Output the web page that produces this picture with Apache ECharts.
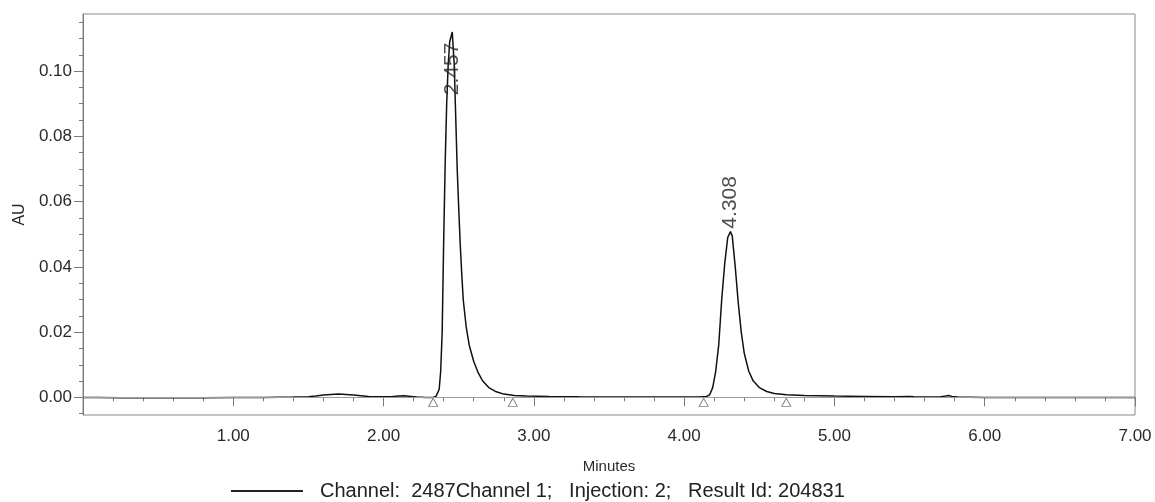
<!DOCTYPE html>
<html>
<head>
<meta charset="utf-8">
<script src="https://cdn.jsdelivr.net/npm/echarts@6/dist/echarts.min.js"></script>
<style>
html,body{margin:0;padding:0;background:#fff;}
#chart{width:1155px;height:502px;}
</style>
</head>
<body>
<div id="chart"></div>
<script>
// Trace: [minutes, AU]
const traceX = [0.00,0.10,0.25,0.40,0.60,0.80,1.00,1.20,1.40,1.50,1.55,1.60,1.65,1.70,1.75,1.80,1.85,1.90,1.95,2.00,2.05,2.10,2.14,2.18,2.22,2.28,2.33,2.35,2.37,2.38,2.39,2.40,2.41,2.42,2.43,2.44,2.457,2.47,2.48,2.49,2.50,2.51,2.52,2.53,2.55,2.57,2.60,2.63,2.66,2.70,2.75,2.80,2.87,2.95,3.10,3.30,3.60,3.90,4.10,4.15,4.17,4.19,4.21,4.23,4.25,4.27,4.29,4.308,4.32,4.34,4.36,4.38,4.40,4.43,4.46,4.50,4.55,4.60,4.68,4.80,5.00,5.20,5.40,5.50,5.53,5.60,5.70,5.74,5.76,5.78,5.82,6.00,6.50,7.00];
const traceY = [0.0000,0.0000,-0.0001,-0.0001,-0.0001,-0.0001,0.0000,0.0000,0.0001,0.0002,0.0004,0.0007,0.0009,0.0010,0.0009,0.0007,0.0005,0.0003,0.0002,0.0002,0.0002,0.0004,0.0005,0.0003,0.0001,0.0000,0.0000,0.0004,0.0025,0.0080,0.0200,0.0480,0.0720,0.0900,0.1020,0.1090,0.1120,0.1020,0.0860,0.0700,0.0580,0.0470,0.0380,0.0300,0.0215,0.0160,0.0110,0.0075,0.0050,0.0030,0.0017,0.0010,0.0006,0.0004,0.0003,0.0002,0.0001,0.0001,0.0001,0.0003,0.0008,0.0030,0.0080,0.0160,0.0300,0.0410,0.0490,0.0508,0.0495,0.0400,0.0290,0.0200,0.0135,0.0080,0.0050,0.0030,0.0018,0.0012,0.0008,0.0006,0.0004,0.0003,0.0002,0.0003,0.0002,0.0001,0.0001,0.0004,0.0006,0.0003,0.0001,0.0000,0.0000,0.0000];

// Peaks
const peakRT = [2.457, 4.308];
const peakHeight = [0.1120, 0.0508];

// Integration start/end markers
const markerRT = [2.33, 2.86, 4.13, 4.68];

// Axis ticks
const xMin = 0, xMax = 7, xStep = 1;
const yMin = -0.0054, yMax = 0.1175;
const yMajorTicks = [0.00, 0.02, 0.04, 0.06, 0.08, 0.10];
const yMinorTicks = [-0.005,0.000,0.005,0.010,0.015,0.020,0.025,0.030,0.035,0.040,0.045,0.050,0.055,0.060,0.065,0.070,0.075,0.080,0.085,0.090,0.095,0.100,0.105,0.110,0.115];

const legendName = 'Channel:  2487Channel 1;   Injection: 2;   Result Id: 204831';

const FONT = 'Liberation Sans, Arial, sans-serif';
const AX = '#7a7a7a';
const TXT = '#2a2a2a';

const trace = traceX.map((x, i) => [x, traceY[i]]);
const labelCap = yMax - 0.0258;
const peakPts = peakRT.map((rt, i) => ({ value: [rt, Math.min(peakHeight[i], labelCap)], name: rt.toFixed(3) }));
const markers = markerRT.map(rt => [rt, 0]);

const chart = echarts.init(document.getElementById('chart'), null, { renderer: 'canvas' });
chart.setOption({
  animation: false,
  backgroundColor: '#fff',
  textStyle: { fontFamily: FONT },
  grid: { left: 83, right: 20, top: 14, bottom: 87, show: true, borderColor: '#8a8a8a', borderWidth: 1 },
  legend: {
    show: true,
    left: 226, top: 476,
    itemWidth: 72, itemHeight: 2,
    icon: 'rect',
    data: [{ name: legendName, itemStyle: { color: '#222' } }],
    textStyle: { fontFamily: FONT, fontSize: 20, color: '#222', padding: [0, 0, 0, 12] }
  },
  xAxis: {
    type: 'value', min: xMin, max: xMax, interval: xStep,
    name: 'Minutes', nameLocation: 'middle', nameGap: 44,
    nameTextStyle: { fontFamily: FONT, fontSize: 15, color: TXT },
    axisLine: { show: true, lineStyle: { color: AX, width: 1 } },
    axisTick: { show: true, length: 9, lineStyle: { color: AX } },
    minorTick: { show: true, splitNumber: 5, length: 4, lineStyle: { color: AX } },
    axisLabel: { margin: 13, fontSize: 17, color: TXT, fontFamily: FONT,
      formatter: v => (v === 0 ? '' : v.toFixed(2)) },
    splitLine: { show: false }, minorSplitLine: { show: false }
  },
  yAxis: [
    {
      type: 'value', min: yMin, max: yMax, position: 'left',
      name: 'AU', nameLocation: 'middle', nameGap: 55,
      nameTextStyle: { fontFamily: FONT, fontSize: 16, color: TXT },
      axisLine: { show: true, lineStyle: { color: AX, width: 1 } },
      axisTick: { show: true, length: 4, customValues: yMinorTicks, lineStyle: { color: AX } },
      axisLabel: { show: false },
      splitLine: { show: false }
    },
    {
      type: 'value', min: yMin, max: yMax, position: 'left', offset: 0,
      axisLine: { show: false },
      axisTick: { show: true, length: 9, customValues: yMajorTicks, lineStyle: { color: AX } },
      axisLabel: { show: true, margin: 11, fontSize: 17, color: TXT, fontFamily: FONT,
        customValues: yMajorTicks, formatter: v => v.toFixed(2) },
      splitLine: { show: false }
    }
  ],
  series: [
    {
      name: legendName, type: 'line', data: trace, showSymbol: false, symbol: 'none',
      lineStyle: { color: '#111', width: 1.5 }, itemStyle: { color: '#111' },
      z: 3,
      markLine: {
        silent: true, symbol: 'none', label: { show: false },
        lineStyle: { color: '#9a9a9a', width: 1, type: 'solid' },
        data: [{ yAxis: 0 }]
      }
    },
    {
      name: 'markers', type: 'scatter', data: markers,
      symbol: 'triangle', symbolSize: [9, 8], symbolOffset: [0, 5],
      itemStyle: { color: '#fff', borderColor: '#666', borderWidth: 1 },
      z: 4
    },
    {
      name: 'peaks', type: 'scatter', data: peakPts, symbolSize: 0,
      label: {
        show: true, formatter: p => p.name, rotate: 90,
        position: [0, -3], align: 'left', verticalAlign: 'middle',
        fontSize: 21, color: '#222', fontFamily: FONT
      },
      z: 5
    }
  ]
});
</script>
</body>
</html>
